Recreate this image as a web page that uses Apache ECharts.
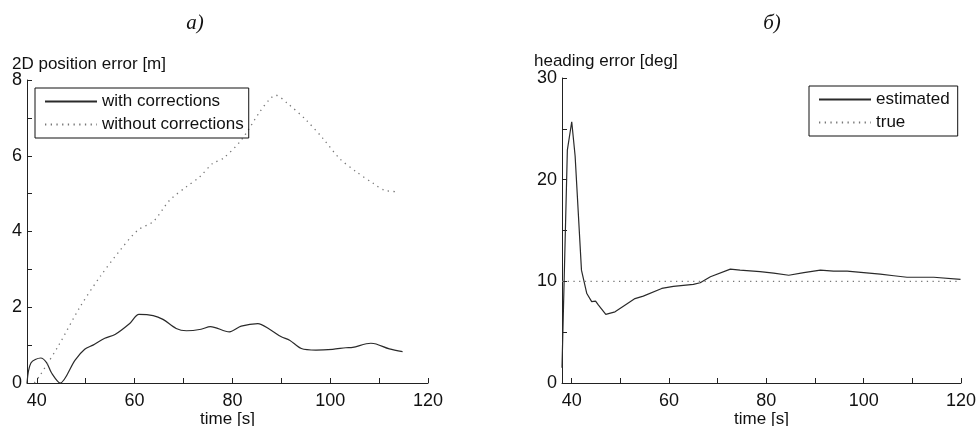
<!DOCTYPE html>
<html>
<head>
<meta charset="utf-8">
<script src="https://cdn.jsdelivr.net/npm/echarts@6/dist/echarts.min.js"></script>
<style>html,body{margin:0;padding:0;background:#fff}#c{width:976px;height:426px}</style>
</head>
<body>
<div id="c"></div>
<script>
// Panel a) 2D position error [m]
const withCorrT = [38, 38.8, 40.8, 42, 43, 44.8, 47.8, 49.8, 51.5, 53.9, 56, 59, 60.9, 63.8, 65.8, 68.5, 70.6, 73.6, 75.5, 79.4, 81.8, 85.2, 87.6, 90, 91.7, 94.1, 97.1, 100.5, 103.2, 104.6, 108.3, 109.4, 112.1, 114.8];
const withCorrV = [0, 0.53, 0.66, 0.54, 0.27, 0, 0.6, 0.89, 1.0, 1.18, 1.28, 1.57, 1.81, 1.78, 1.68, 1.44, 1.38, 1.42, 1.49, 1.35, 1.5, 1.57, 1.42, 1.22, 1.13, 0.91, 0.87, 0.89, 0.93, 0.94, 1.05, 1.03, 0.9, 0.83];
const withoutCorrT = [39.5, 40.7, 44.5, 48.8, 52.9, 57, 60.7, 63.8, 67.2, 70.6, 73.3, 76, 78.1, 81.8, 85.6, 87.6, 88.8, 91.3, 95.1, 98.5, 101.9, 105.3, 108.7, 111.1, 114.1];
const withoutCorrV = [0, 0.21, 1.0, 2.0, 2.8, 3.5, 4.04, 4.26, 4.83, 5.18, 5.44, 5.8, 5.93, 6.41, 7.16, 7.49, 7.6, 7.38, 6.94, 6.46, 5.93, 5.58, 5.28, 5.09, 5.05];

// Panel б) heading error [deg]
const estT = [38, 39.1, 40, 40.7, 42, 43.1, 44.1, 44.9, 45.5, 47, 48.9, 51, 53, 54.7, 58.5, 60.9, 65, 66.4, 68.5, 72.6, 74.6, 78.7, 81.5, 84.6, 87.7, 91.1, 93.8, 96.6, 100, 103.4, 106.2, 108.9, 114.4, 119.9];
const estV = [1.5, 22.9, 25.7, 22.3, 11.1, 8.8, 8.0, 8.06, 7.67, 6.75, 7.0, 7.67, 8.3, 8.55, 9.3, 9.5, 9.7, 9.86, 10.45, 11.2, 11.1, 10.95, 10.8, 10.6, 10.85, 11.1, 11.0, 11.0, 10.85, 10.7, 10.55, 10.4, 10.4, 10.2];
const trueT = [38, 120];
const trueV = [10, 10];

// Axis ticks and labels
const xTicks = [40, 50, 60, 70, 80, 90, 100, 110, 120];
const xLabels = [40, 60, 80, 100, 120];
const yTicksA = [0, 1, 2, 3, 4, 5, 6, 7, 8];
const yLabelsA = [0, 2, 4, 6, 8];
const yTicksB = [0, 5, 10, 15, 20, 25, 30];
const yLabelsB = [0, 10, 20, 30];

const zip = (a, b) => a.map((t, i) => [t, b[i]]);

const FONT = '"Liberation Sans", Arial, sans-serif';
const axisCol = '#222';

function xAxis(gi) {
  return {
    type: 'value', gridIndex: gi, min: 38, max: 120,
    name: 'time [s]', nameLocation: 'middle', nameGap: 28, nameMoveOverlap: false,
    nameTextStyle: { fontFamily: FONT, fontSize: 17, color: '#111' },
    axisLine: { show: true, lineStyle: { color: axisCol, width: 1 } },
    axisTick: { show: true, inside: true, length: 5, customValues: xTicks, lineStyle: { color: axisCol } },
    axisLabel: { customValues: xLabels, fontFamily: FONT, fontSize: 18, color: '#111', margin: 9 },
    splitLine: { show: false }
  };
}
function yAxis(gi, max, ticks, labels) {
  return {
    type: 'value', gridIndex: gi, min: 0, max: max,
    axisLine: { show: true, lineStyle: { color: axisCol, width: 1 } },
    axisTick: { show: true, inside: true, length: 5, customValues: ticks, lineStyle: { color: axisCol } },
    axisLabel: { customValues: labels, fontFamily: FONT, fontSize: 18, color: '#111', margin: 5 },
    splitLine: { show: false }
  };
}

const solid = { color: '#2a2a2a', width: 1.2, type: 'solid' };
const dotted = { color: '#777', width: 1.3, type: [1.3, 4.4] };

const chart = echarts.init(document.getElementById('c'), null, { renderer: 'canvas' });
chart.setOption({
  animation: false,
  backgroundColor: '#fff',
  title: [
    { text: 'a)', left: 190, top: 8, textAlign: 'center', textStyle: { fontFamily: '"Liberation Serif", serif', fontStyle: 'italic', fontWeight: 'normal', fontSize: 21, color: '#111' } },
    { text: 'б)', left: 767, top: 8, textAlign: 'center', textStyle: { fontFamily: '"Liberation Serif", serif', fontStyle: 'italic', fontWeight: 'normal', fontSize: 21, color: '#111' } },
    { text: '2D position error [m]', left: 12, top: 56, padding: 0, textStyle: { fontFamily: FONT, fontWeight: 'normal', fontSize: 17, color: '#111' } },
    { text: 'heading error [deg]', left: 534, top: 53, padding: 0, textStyle: { fontFamily: FONT, fontWeight: 'normal', fontSize: 17, color: '#111' } }
  ],
  grid: [
    { left: 27, top: 80, width: 401, height: 303, containLabel: false, outerBoundsMode: 'none' },
    { left: 562, top: 78, width: 399, height: 305, containLabel: false, outerBoundsMode: 'none' }
  ],
  xAxis: [xAxis(0), xAxis(1)],
  yAxis: [yAxis(0, 8, yTicksA, yLabelsA), yAxis(1, 30, yTicksB, yLabelsB)],
  legend: [
    {
      data: ['with corrections', 'without corrections'], orient: 'vertical',
      left: 35, top: 88, itemWidth: 52, itemHeight: 14, itemGap: 6,
      padding: [5, 5, 5, 9], borderColor: '#111', borderWidth: 1,
      itemStyle: { opacity: 0 },
      textStyle: { fontFamily: FONT, fontSize: 17, color: '#111' }
    },
    {
      data: ['estimated', 'true'], orient: 'vertical',
      left: 809, top: 86, itemWidth: 52, itemHeight: 14, itemGap: 6,
      padding: [5, 8, 5, 9], borderColor: '#111', borderWidth: 1,
      itemStyle: { opacity: 0 },
      textStyle: { fontFamily: FONT, fontSize: 17, color: '#111' }
    }
  ],
  series: [
    { name: 'with corrections', type: 'line', xAxisIndex: 0, yAxisIndex: 0, data: zip(withCorrT, withCorrV), showSymbol: false, symbol: 'none', smooth: 0.3, lineStyle: solid, itemStyle: { color: '#2a2a2a' } },
    { name: 'without corrections', type: 'line', xAxisIndex: 0, yAxisIndex: 0, data: zip(withoutCorrT, withoutCorrV), showSymbol: false, symbol: 'none', smooth: 0.3, lineStyle: dotted, itemStyle: { color: '#777' } },
    { name: 'estimated', type: 'line', xAxisIndex: 1, yAxisIndex: 1, data: zip(estT, estV), showSymbol: false, symbol: 'none', lineStyle: solid, itemStyle: { color: '#2a2a2a' } },
    { name: 'true', type: 'line', xAxisIndex: 1, yAxisIndex: 1, data: zip(trueT, trueV), showSymbol: false, symbol: 'none', lineStyle: dotted, itemStyle: { color: '#777' } }
  ]
});
</script>
</body>
</html>
